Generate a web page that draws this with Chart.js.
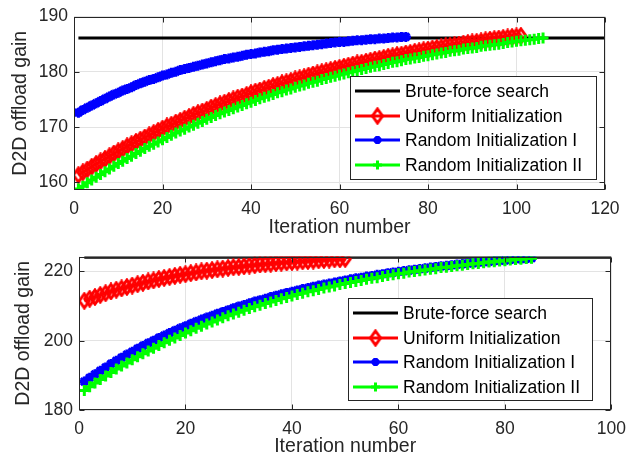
<!DOCTYPE html>
<html>
<head>
<meta charset="utf-8">
<script src="https://cdn.jsdelivr.net/npm/chart.js@4.4.1/dist/chart.umd.min.js"></script>
<style>
  html, body { margin: 0; padding: 0; background: #fff; }
  #wrap { position: relative; width: 635px; height: 458px; }
  canvas { position: absolute; left: 0; }
  #top { top: 0; }
  #bottom { top: 240px; }
</style>
</head>
<body>
<div id="wrap">
  <canvas id="top" width="635" height="240"></canvas>
  <canvas id="bottom" width="635" height="218"></canvas>
</div>
<script>
const seriesNames = ['Brute-force search', 'Uniform Initialization', 'Random Initialization I', 'Random Initialization II'];

// upper panel
const topBrute = 186.1;
const topUniform = [
  161.3,161.8,162.3,162.8,163.3,163.8,164.2,164.7,165.2,165.6,
  166.0,166.5,166.9,167.3,167.7,168.1,168.5,168.9,169.3,169.7,
  170.1,170.4,170.8,171.1,171.5,171.8,172.2,172.5,172.8,173.1,
  173.5,173.8,174.1,174.4,174.7,175.0,175.3,175.5,175.8,176.1,
  176.4,176.6,176.9,177.1,177.4,177.6,177.9,178.1,178.3,178.6,
  178.8,179.0,179.3,179.5,179.7,179.9,180.1,180.3,180.5,180.7,
  180.9,181.1,181.3,181.5,181.6,181.8,182.0,182.2,182.3,182.5,
  182.7,182.8,183.0,183.1,183.3,183.4,183.6,183.7,183.9,184.0,
  184.2,184.3,184.4,184.6,184.7,184.8,184.9,185.1,185.2,185.3,
  185.4,185.5,185.7,185.8,185.9,186.0,186.1,186.2,186.3,186.4,
  186.5
];
const topRandom1 = [
  172.6,173.1,173.5,173.9,174.3,174.7,175.1,175.5,175.9,176.2,
  176.6,176.9,177.2,177.6,177.9,178.2,178.5,178.7,179.0,179.3,
  179.5,179.8,180.0,180.3,180.5,180.7,180.9,181.1,181.3,181.5,
  181.7,181.9,182.1,182.3,182.4,182.6,182.7,182.9,183.1,183.2,
  183.3,183.5,183.6,183.7,183.9,184.0,184.1,184.2,184.3,184.4,
  184.5,184.6,184.7,184.8,184.9,185.0,185.1,185.2,185.3,185.4,
  185.4,185.5,185.6,185.7,185.7,185.8,185.9,185.9,186.0,186.0,
  186.1,186.2,186.2,186.3,186.3
];
const topRandom2 = [
  158.8,159.3,159.9,160.4,160.9,161.4,161.9,162.4,162.9,163.4,
  163.8,164.3,164.7,165.2,165.6,166.1,166.5,166.9,167.3,167.7,
  168.1,168.5,168.9,169.3,169.6,170.0,170.3,170.7,171.0,171.4,
  171.7,172.1,172.4,172.7,173.0,173.3,173.6,173.9,174.2,174.5,
  174.8,175.1,175.4,175.6,175.9,176.2,176.4,176.7,176.9,177.2,
  177.4,177.6,177.9,178.1,178.3,178.6,178.8,179.0,179.2,179.4,
  179.6,179.8,180.0,180.2,180.4,180.6,180.8,181.0,181.1,181.3,
  181.5,181.7,181.8,182.0,182.2,182.3,182.5,182.6,182.8,182.9,
  183.1,183.2,183.4,183.5,183.7,183.8,183.9,184.1,184.2,184.3,
  184.4,184.6,184.7,184.8,184.9,185.0,185.1,185.3,185.4,185.5,
  185.6,185.7,185.8,185.9,186.0,186.1
];
const topXTicks = [0, 20, 40, 60, 80, 100, 120];
const topYTicks = [160, 170, 180, 190];

// lower panel
const botBrute = 224.1;
const botUniform = [
  211.5,212.1,212.6,213.2,213.7,214.2,214.7,215.1,215.5,215.9,
  216.3,216.7,217.1,217.4,217.8,218.1,218.4,218.7,219.0,219.2,
  219.5,219.7,220.0,220.2,220.4,220.6,220.8,221.0,221.2,221.3,
  221.5,221.7,221.8,222.0,222.1,222.2,222.4,222.5,222.6,222.7,
  222.8,222.9,223.0,223.1,223.2,223.3,223.4,223.5,223.5,223.6
];
const botRandom1 = [
  188.2,189.3,190.3,191.3,192.3,193.3,194.2,195.1,196.0,196.8,
  197.7,198.5,199.3,200.0,200.8,201.5,202.2,202.9,203.6,204.2,
  204.9,205.5,206.1,206.7,207.2,207.8,208.3,208.8,209.4,209.9,
  210.3,210.8,211.3,211.7,212.1,212.6,213.0,213.4,213.8,214.1,
  214.5,214.9,215.2,215.6,215.9,216.2,216.5,216.8,217.1,217.4,
  217.7,218.0,218.2,218.5,218.7,219.0,219.2,219.5,219.7,219.9,
  220.1,220.3,220.5,220.7,220.9,221.1,221.3,221.5,221.6,221.8,
  222.0,222.1,222.3,222.4,222.6,222.7,222.8,223.0,223.1,223.2,
  223.4,223.5,223.6,223.7,223.8
];
const botRandom2 = [
  185.6,186.7,187.8,188.8,189.8,190.8,191.8,192.7,193.6,194.5,
  195.4,196.2,197.0,197.8,198.6,199.4,200.1,200.8,201.5,202.2,
  202.9,203.6,204.2,204.8,205.4,206.0,206.6,207.2,207.7,208.2,
  208.8,209.3,209.8,210.2,210.7,211.2,211.6,212.1,212.5,212.9,
  213.3,213.7,214.1,214.4,214.8,215.2,215.5,215.8,216.2,216.5,
  216.8,217.1,217.4,217.7,218.0,218.2,218.5,218.8,219.0,219.3,
  219.5,219.8,220.0,220.2,220.4,220.6,220.8,221.1,221.2,221.4,
  221.6,221.8,222.0,222.2,222.3,222.5,222.7,222.8,223.0,223.1,
  223.3,223.4,223.5,223.7,223.8
];
const botXTicks = [0, 20, 40, 60, 80, 100];
const botYTicks = [180, 200, 220];

const FONT = '"Liberation Sans", Arial, sans-serif';
const AXIS_COLOR = '#262626';
Chart.defaults.font.family = FONT;
Chart.defaults.color = AXIS_COLOR;

// tall hollow diamond marker
function diamondMarker(color) {
  const c = document.createElement('canvas');
  c.width = 14; c.height = 18;
  const g = c.getContext('2d');
  g.strokeStyle = color;
  g.lineWidth = 3;
  g.lineJoin = 'miter';
  g.beginPath();
  g.moveTo(7, 2); g.lineTo(12, 9); g.lineTo(7, 16); g.lineTo(2, 9);
  g.closePath();
  g.stroke();
  return c;
}
const redDiamond = diamondMarker('#ff0000');

const toPoints = arr => arr.map((v, i) => ({ x: i + 1, y: v }));

function makeDatasets(brute, xEnd, uni, r1, r2) {
  return [
    { label: seriesNames[0], data: [{ x: 1, y: brute }, { x: xEnd, y: brute }],
      borderColor: '#000000', borderWidth: 3, pointRadius: 0, order: 4 },
    { label: seriesNames[1], data: toPoints(uni), borderColor: '#ff0000', borderWidth: 3,
      pointStyle: redDiamond, pointRadius: 7, pointBorderColor: '#ff0000',
      pointBackgroundColor: 'rgba(0,0,0,0)', pointBorderWidth: 3, order: 3 },
    { label: seriesNames[2], data: toPoints(r1), borderColor: '#0000ff', borderWidth: 3,
      pointStyle: 'star', pointRadius: 5, pointBorderColor: '#0000ff',
      pointBackgroundColor: 'rgba(0,0,0,0)', pointBorderWidth: 3, order: 2 },
    { label: seriesNames[3], data: toPoints(r2), borderColor: '#00ff00', borderWidth: 3,
      pointStyle: 'cross', pointRadius: 5.5, pointBorderColor: '#00ff00',
      pointBackgroundColor: 'rgba(0,0,0,0)', pointBorderWidth: 3, order: 1 }
  ];
}

// box around the axes with inward tick marks on all four sides
const axesBox = {
  id: 'axesBox',
  afterDatasetsDraw(chart) {
    const { ctx, chartArea: a, scales } = chart;
    ctx.save();
    ctx.strokeStyle = AXIS_COLOR;
    ctx.lineWidth = 1;
    const L = Math.round(a.left) + 0.5, R = Math.round(a.right) - 0.5;
    const T = Math.round(a.top) + 0.5, B = Math.round(a.bottom) - 0.5;
    ctx.strokeRect(L, T, R - L, B - T);
    ctx.beginPath();
    scales.x.ticks.forEach(t => {
      const px = Math.round(scales.x.getPixelForValue(t.value)) + 0.5;
      ctx.moveTo(px, B); ctx.lineTo(px, B - 5);
      ctx.moveTo(px, T); ctx.lineTo(px, T + 5);
    });
    scales.y.ticks.forEach(t => {
      const py = Math.round(scales.y.getPixelForValue(t.value)) + 0.5;
      ctx.moveTo(L, py); ctx.lineTo(L + 5, py);
      ctx.moveTo(R, py); ctx.lineTo(R - 5, py);
    });
    ctx.stroke();
    ctx.restore();
  }
};

// legend drawn inside the plot area
const boxLegend = {
  id: 'boxLegend',
  afterDraw(chart, args, opts) {
    const { ctx, chartArea: a } = chart;
    const x0 = Math.round(a.left + opts.x), y0 = Math.round(a.top + opts.y);
    ctx.save();
    ctx.fillStyle = '#ffffff';
    ctx.fillRect(x0, y0, opts.w, opts.h);
    ctx.strokeStyle = AXIS_COLOR;
    ctx.lineWidth = 1;
    ctx.strokeRect(x0 + 0.5, y0 + 0.5, opts.w, opts.h);
    chart.data.datasets.forEach((ds, i) => {
      const y = Math.round(y0 + 15 + i * 24.5);
      ctx.strokeStyle = ds.borderColor;
      ctx.lineWidth = 3;
      ctx.beginPath();
      ctx.moveTo(x0 + 5, y); ctx.lineTo(x0 + 50, y);
      ctx.stroke();
      if (ds.pointRadius) {
        ctx.lineWidth = 3;
        ctx.fillStyle = 'rgba(0,0,0,0)';
        Chart.helpers.drawPoint(ctx, { pointStyle: ds.pointStyle, radius: ds.pointRadius - 1, borderWidth: 3, rotation: 0 }, x0 + 27.5, y);
      }
      ctx.fillStyle = '#000000';
      ctx.font = '17.5px ' + FONT;
      ctx.textBaseline = 'middle';
      ctx.textAlign = 'left';
      ctx.fillText(ds.label, x0 + 55, y + 1);
    });
    ctx.restore();
  }
};

function makeChart(id, cfg) {
  return new Chart(document.getElementById(id), {
    type: 'line',
    data: { datasets: makeDatasets(cfg.brute, cfg.xMax, cfg.uni, cfg.r1, cfg.r2) },
    plugins: [axesBox, boxLegend],
    options: {
      responsive: false,
      animation: false,
      devicePixelRatio: 1,
      layout: { padding: { top: 14, right: cfg.right, left: 0, bottom: 0 } },
      plugins: {
        legend: { display: false },
        tooltip: { enabled: false },
        boxLegend: cfg.legend
      },
      scales: {
        x: {
          type: 'linear', min: 0, max: cfg.xMax,
          afterBuildTicks: s => { s.ticks = cfg.xTicks.map(v => ({ value: v })); },
          afterFit: s => { s.height = cfg.xHeight; },
          grid: { color: '#e3e3e3', drawTicks: false },
          border: { display: false },
          ticks: { padding: 9, font: { size: 17.5 }, color: AXIS_COLOR },
          title: { display: true, text: 'Iteration number', font: { size: 19.5, lineHeight: 1.2 },
                   color: AXIS_COLOR, padding: { top: 0, bottom: cfg.xTitlePad } }
        },
        y: {
          type: 'linear', min: cfg.yMin, max: cfg.yMax,
          afterBuildTicks: s => { s.ticks = cfg.yTicks.map(v => ({ value: v })); },
          afterFit: s => { s.width = cfg.yWidth; },
          grid: { color: '#e3e3e3', drawTicks: false },
          border: { display: false },
          ticks: { padding: 6, font: { size: 17.5 }, color: AXIS_COLOR },
          title: { display: true, text: 'D2D offload gain', font: { size: 19.5, lineHeight: 1.2 },
                   color: AXIS_COLOR, padding: { top: cfg.yTitlePad, bottom: 0 } }
        }
      }
    }
  });
}

makeChart('top', {
  brute: topBrute, uni: topUniform, r1: topRandom1, r2: topRandom2,
  xMax: 120, xTicks: topXTicks, yMin: 158.6, yMax: 190, yTicks: topYTicks,
  right: 30, yWidth: 74, xHeight: 50, xTitlePad: 1, yTitlePad: 9,
  legend: { x: 276, y: 59, w: 246, h: 103 }
});

makeChart('bottom', {
  brute: botBrute, uni: botUniform, r1: botRandom1, r2: botRandom2,
  xMax: 100, xTicks: botXTicks, yMin: 180, yMax: 224.3, yTicks: botYTicks,
  right: 19, yWidth: 79, xHeight: 48, xTitlePad: 0, yTitlePad: 12,
  legend: { x: 269, y: 41, w: 244, h: 102 }
});
</script>
</body>
</html>
